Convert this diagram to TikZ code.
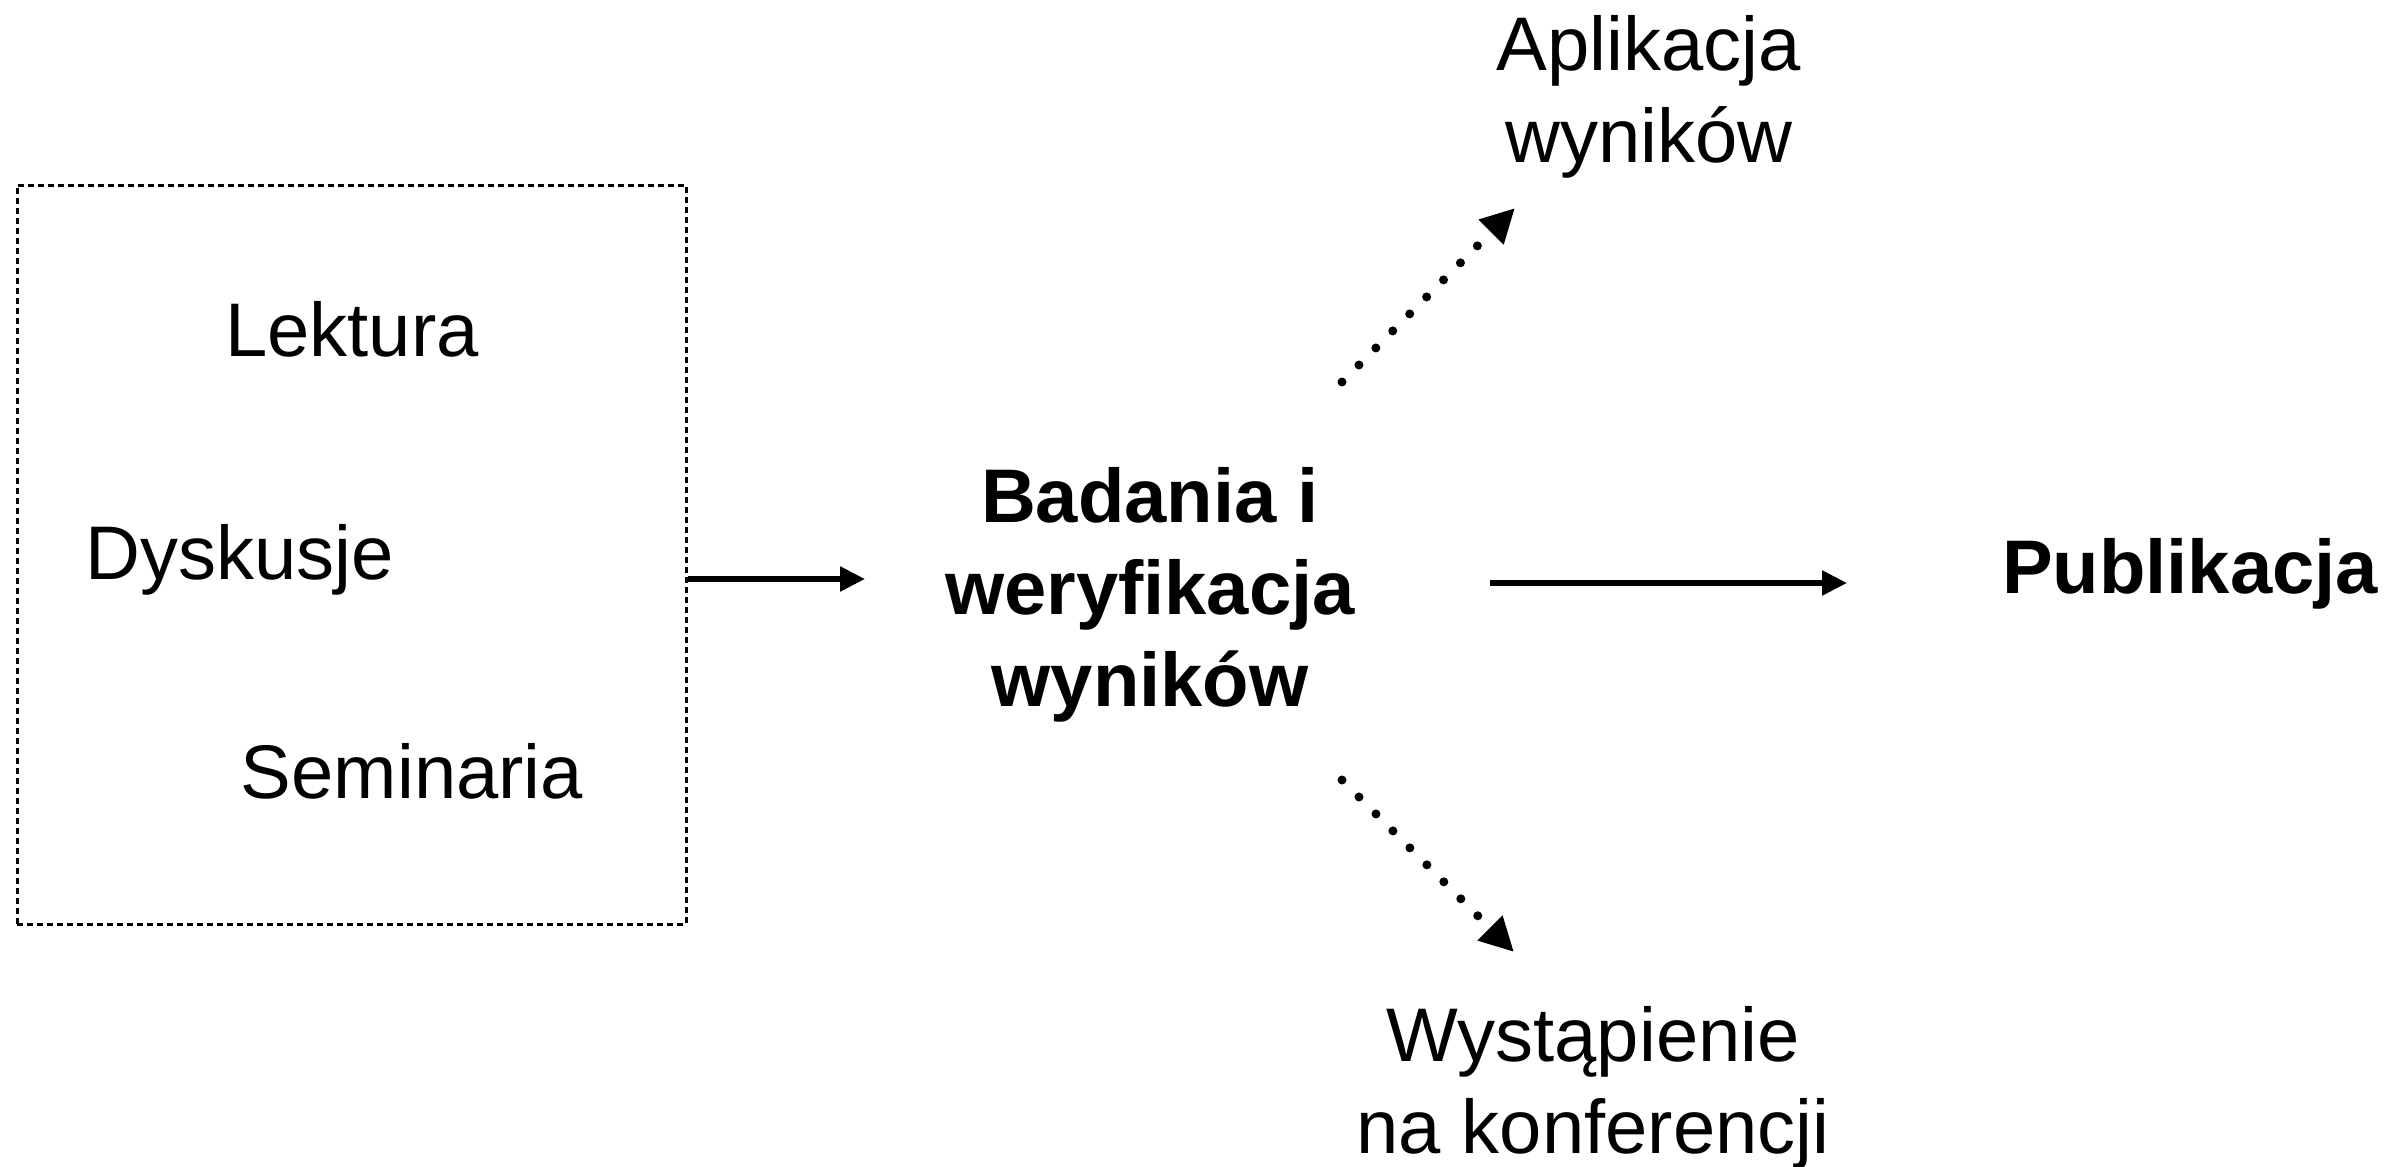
\documentclass[tikz,border=0pt]{standalone}
\usepackage{fontspec}
\setmainfont{Liberation Sans}
\usetikzlibrary{arrows.meta}
\begin{document}
\begin{tikzpicture}[x=0.5pt,y=-0.5pt,
  lbl/.style={font=\fontsize{38}{46}\selectfont, inner sep=0pt, align=center, anchor=base},
  boldlbl/.style={lbl, font=\fontsize{38}{46}\selectfont\bfseries},
  solidarrow/.style={line width=2.8pt, -{Triangle[length=12.5pt,width=12pt]}},
  dotarrow/.style={line width=4.5pt, line cap=round, dash pattern=on 0pt off 12pt, -{Triangle[length=17pt,width=16.5pt]}},
  srcbox/.style={draw, line width=1.5pt, dash pattern=on 3pt off 2pt, inner sep=0pt, minimum width=334.5pt, minimum height=369.5pt}
]
\useasboundingbox (0,0) rectangle (2405,1167);
\node[srcbox] (box) at (351.5,554.5) {};
\node[lbl] (lek) at (352,356) {Lektura};
\node[lbl] (dys) at (240,579) {Dyskusje};
\node[lbl] (sem) at (412,798) {Seminaria};
\node[boldlbl] (bad) at (1150,706) {Badania i\\weryfikacja\\wyników};
\node[boldlbl] (pub) at (2190,593) {Publikacja};
\node[lbl] (apl) at (1649,162) {Aplikacja\\wyników};
\node[lbl] (wys) at (1593,1153) {Wystąpienie\\na konferencji};
\coordinate (in1) at (865,579);
\coordinate (badR) at (1490,583);
\coordinate (pubL) at (1847,583);
\coordinate (upS) at (1342,382);
\coordinate (upT) at (1515,208);
\coordinate (loS) at (1342,780);
\coordinate (loT) at (1514,952);
\draw[solidarrow] (box.east |- in1) -- (in1);
\draw[solidarrow] (badR) -- (pubL);
\draw[dotarrow] (upS) -- (upT);
\draw[dotarrow] (loS) -- (loT);
\end{tikzpicture}
\end{document}
